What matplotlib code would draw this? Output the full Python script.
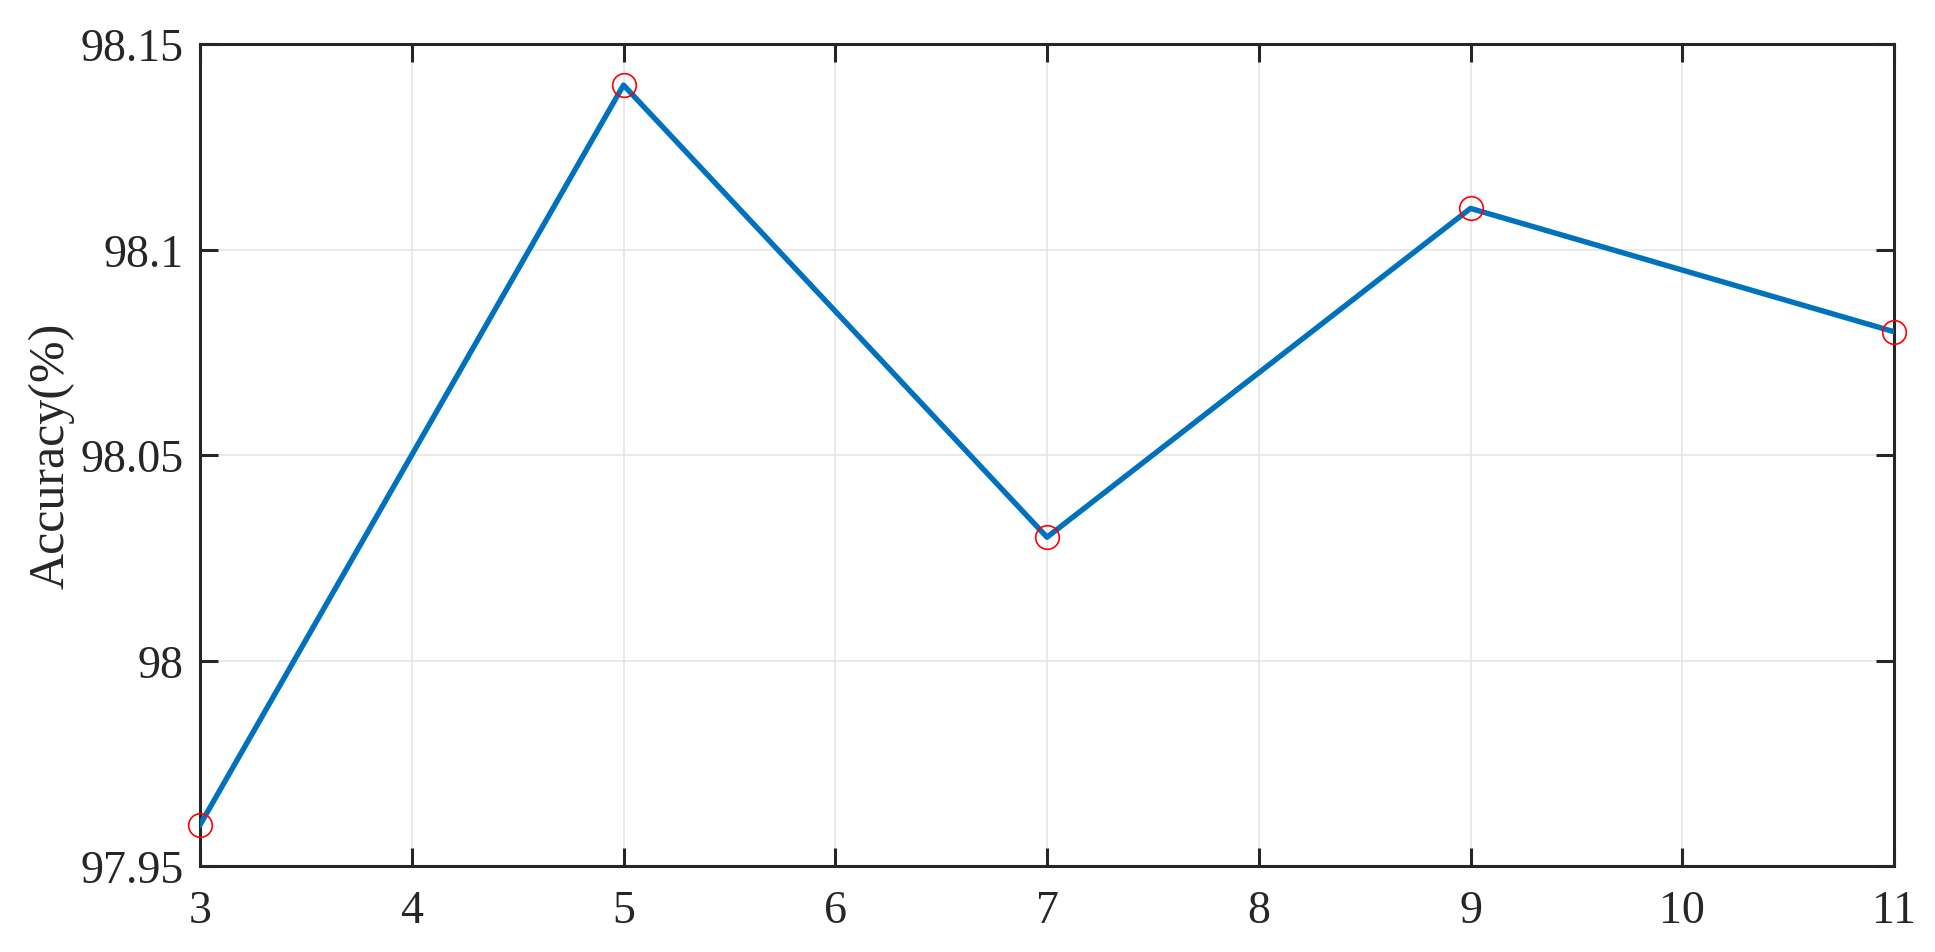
import numpy as np
import matplotlib
matplotlib.use('Agg')
import matplotlib.pyplot as plt

# window size vs. accuracy
window = [3, 5, 7, 9, 11]
accuracy = [97.96, 98.14, 98.03, 98.11, 98.08]

C_LINE = '#0072BD'; C_AX = '#262626'

plt.rcParams['font.family'] = ['Liberation Serif', 'DejaVu Serif']
plt.rcParams['mathtext.fontset'] = 'stix'

fig = plt.figure(figsize=(19.35, 9.53), dpi=100)
ax = fig.add_axes([200/1935, 1-867/953, (1894-200)/1935, (867-45)/953])

ax.plot(window, accuracy, '-', color=C_LINE, lw=3.9, zorder=3)
ax.plot(window, accuracy, 'o', mfc='none', mec='red', ms=17, mew=1.2, zorder=4, clip_on=False)

ax.set_xlim(3, 11); ax.set_ylim(97.95, 98.15)
ax.set_xticks(range(3, 12))
ax.set_yticks([97.95, 98.0, 98.05, 98.1, 98.15])
ax.set_yticklabels(['97.95', '98', '98.05', '98.1', '98.15'])
ax.grid(True, color='#e3e3e3', lw=1.1, zorder=0)
ax.set_axisbelow(True)

for s in ax.spines.values():
    s.set_linewidth(2.2); s.set_color(C_AX)
ax.tick_params(direction='in', length=13, width=2.2, colors=C_AX,
               labelsize=33, top=True, right=True)
ax.tick_params(axis='y', pad=12)
ax.tick_params(axis='x', pad=17)
ax.set_ylabel('Accuracy(%)', fontsize=36, color=C_AX, labelpad=4)

fig.savefig('out.png', dpi=100)
